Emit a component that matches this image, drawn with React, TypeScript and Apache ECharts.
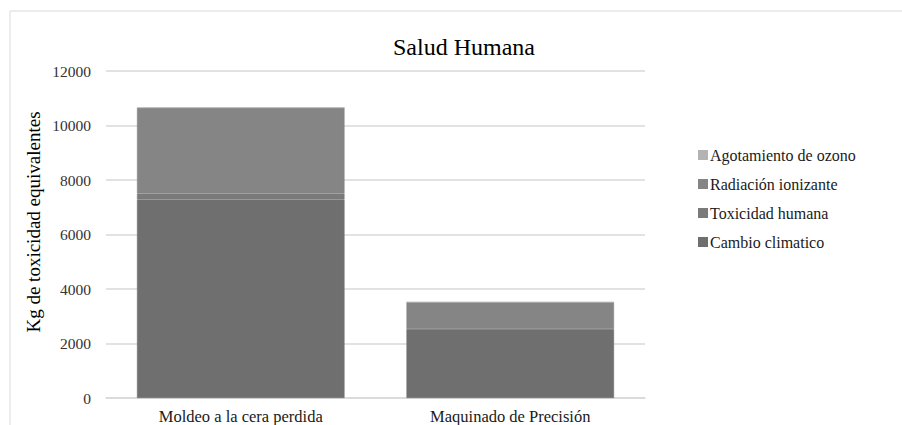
import React, { useEffect, useRef } from "react";
import * as echarts from "echarts";

const categories = ["Moldeo a la cera perdida", "Maquinado de Precisión"];
const cambioClimatico = [7280, 2520];
const toxicidadHumana = [220, 15];
const radiacionIonizante = [3150, 980];
const agotamientoOzono = [5, 2];
const yTicks = [0, 12000, 2000];
const yTitle = "Kg de toxicidad equivalentes";

const FONT = "Liberation Serif";

export default function App() {
  const ref = useRef<HTMLDivElement>(null);
  useEffect(() => {
    const chart = echarts.init(ref.current!, null, { renderer: "svg" });
    const mk = (name: string, data: number[], color: string) => ({
      name,
      type: "bar",
      stack: "total",
      data,
      barCategoryGap: "23%",
      itemStyle: { color, borderColor: color, borderWidth: 0.6 },
    });
    chart.setOption({
      animation: false,
      textStyle: { fontFamily: FONT },
      title: {
        text: "Salud Humana",
        left: 459,
        textAlign: "center",
        top: 30,
        textStyle: { fontFamily: FONT, fontSize: 24, fontWeight: "normal", color: "#000" },
      },
      graphic: [
        {
          type: "rect",
          shape: { x: 10, y: 11, width: 900, height: 420 },
          style: { fill: "none", stroke: "#d9d9d9", lineWidth: 1 },
          silent: true,
        },
        {
          type: "text",
          x: 33,
          y: 222,
          rotation: Math.PI / 2,
          style: {
            text: yTitle,
            fontFamily: FONT,
            fontSize: 19,
            fill: "#000",
            align: "center",
            verticalAlign: "middle",
          },
        },
      ],
      legend: {
        orient: "vertical",
        left: 693,
        top: 142,
        itemGap: 13,
        itemWidth: 8,
        itemHeight: 8,
        icon: "rect",
        data: ["Agotamiento de ozono", "Radiación ionizante", "Toxicidad humana", "Cambio climatico"],
        textStyle: { fontFamily: FONT, fontSize: 16, color: "#1a1a1a", padding: [0, 0, 0, -2] },
      },
      grid: { left: 106, right: 257, top: 71, bottom: 26, containLabel: false },
      xAxis: {
        type: "category",
        data: categories,
        axisLine: { show: true, lineStyle: { color: "#d9d9d9", width: 1.5 } },
        axisTick: { show: false },
        axisLabel: { fontFamily: FONT, fontSize: 16.5, color: "#1a1a1a", margin: 10 },
      },
      yAxis: {
        type: "value",
        min: yTicks[0],
        max: yTicks[1],
        interval: yTicks[2],
        axisLine: { show: false },
        axisTick: { show: false },
        axisLabel: {
          fontFamily: FONT,
          fontSize: 15.5,
          color: "#333",
          margin: 15,
          formatter: (v: number) => String(v),
        },
        splitLine: { lineStyle: { color: "#d9d9d9", width: 1.5 } },
      },
      series: [
        mk("Cambio climatico", cambioClimatico, "#6f6f6f"),
        mk("Toxicidad humana", toxicidadHumana, "#7a7a7a"),
        mk("Radiación ionizante", radiacionIonizante, "#858585"),
        mk("Agotamiento de ozono", agotamientoOzono, "#b3b3b3"),
      ],
    });
    return () => chart.dispose();
  }, []);
  return (
    <div
      ref={ref}
      style={{ position: "absolute", left: 0, top: 0, width: 902, height: 425, background: "#fff" }}
    />
  );
}
